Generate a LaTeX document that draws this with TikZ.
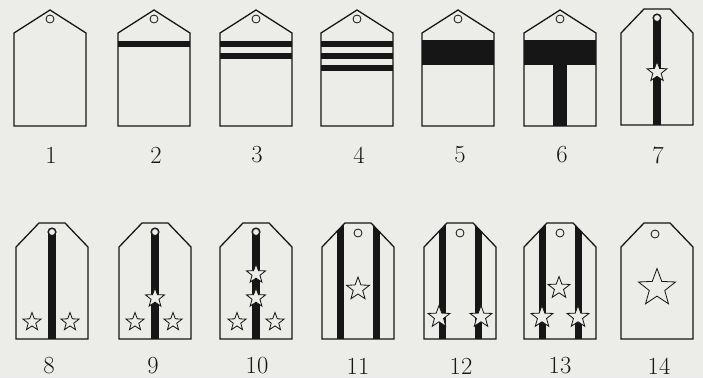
\documentclass[tikz,border=0pt]{standalone}
\usepackage{xcolor}
\usetikzlibrary{shapes.geometric, math}
\definecolor{paper}{RGB}{236,236,233}
\definecolor{ink}{RGB}{22,22,22}

\begin{document}
\begin{tikzpicture}[x=0.03cm, y=-0.03cm,
  board/.style={draw=ink, line width=1.1pt, line join=miter},
  band/.style={fill=ink},
  hole/.style={draw=ink, fill=paper, line width=0.7pt},
  badge/.style={star, star points=5, star point ratio=2.4, draw=ink, fill=paper,
    line width=0.7pt, inner sep=0pt, minimum size=#1*0.03cm},
  num/.style={font=\fontsize{21}{25}\selectfont, text=ink}]

\tikzmath{
\w = 36; % half width of a board
\f = 13; % half width of a flat top
\s = 4; % hole radius
}

\useasboundingbox[fill=paper] (0,0) rectangle (703,378);

% boards 1-6, pointed top
\foreach \cx in {50,154,256,357,458,560}{
  \draw[board] (\cx-\w,126) -- (\cx-\w,33) -- (\cx,10) -- (\cx+\w,33) -- (\cx+\w,126) -- cycle;
}

% thin bands
\foreach \cx/\n in {154/1, 256/2, 357/3}{
  \foreach \k in {1,...,\n}{
    \fill[band] (\cx-\w,29+12*\k) rectangle (\cx+\w,35+12*\k);
  }
}

% wide band and stem
\fill[band] (458-\w,40) rectangle (458+\w,65);
\fill[band] (560-\w,40) rectangle (560+\w,65);
\fill[band] (560-7,65) rectangle (560+7,126);

\foreach \cx in {50,154,256,357,458,560}{
  \draw[hole] (\cx,19) circle (\s);
}

% boards 7-14, flat top
\foreach \cx/\cy in {657/9, 52/223, 155/223, 256/223, 358/223, 460/223, 560/223, 657/223}{
  \draw[board] (\cx-\w,\cy+116) -- (\cx-\w,\cy+24) -- (\cx-\f,\cy) -- (\cx+\f,\cy)
    -- (\cx+\w,\cy+24) -- (\cx+\w,\cy+116) -- cycle;
}

% one stripe
\foreach \cx/\cy in {657/9, 52/223, 155/223, 256/223}{
  \fill[band] (\cx-4,\cy+9) rectangle (\cx+4,\cy+116);
  \fill[band] (\cx,\cy+9) circle (4.6);
  \draw[hole] (\cx,\cy+9) circle (3.5);
}

% two stripes, cut by the board edge
\foreach \cx in {358,460,560}{
  \begin{scope}
    \clip (\cx-\w,339) -- (\cx-\w,247) -- (\cx-\f,223) -- (\cx+\f,223) -- (\cx+\w,247) -- (\cx+\w,339) -- cycle;
    \fill[band] (\cx-21.5,223) rectangle (\cx-14.5,339);
    \fill[band] (\cx+14.5,223) rectangle (\cx+21.5,339);
  \end{scope}
  \draw[hole] (\cx,233) circle (\s);
}
\draw[hole] (655,234) circle (\s);

% stars
\foreach \x/\y/\z [count=\i] in {657/72/21,
    32/322/19, 70/322/19,
    135/322/19, 173/322/19, 155/298/20,
    256/274/20, 256/298/20, 237/322/19, 275/322/19,
    358/289/24,
    439/317/23, 481/317/23,
    542/317/23, 578/317/23, 559/288/23,
    657/288/39}{
  \node[badge=\z] (star\i) at (\x,\y) {};
}

% numbers
\foreach \x/\y/\t in {51/155/1, 156/155/2, 257/155/3, 359/155/4, 460/155/5, 562/155/6, 658/155/7,
    49/366/8, 153/366/9, 257/366/10, 358/366/11, 461/366/12, 560/366/13, 659/366/14}{
  \node[num] (n\t) at (\x,\y) {\t};
}

\end{tikzpicture}
\end{document}
